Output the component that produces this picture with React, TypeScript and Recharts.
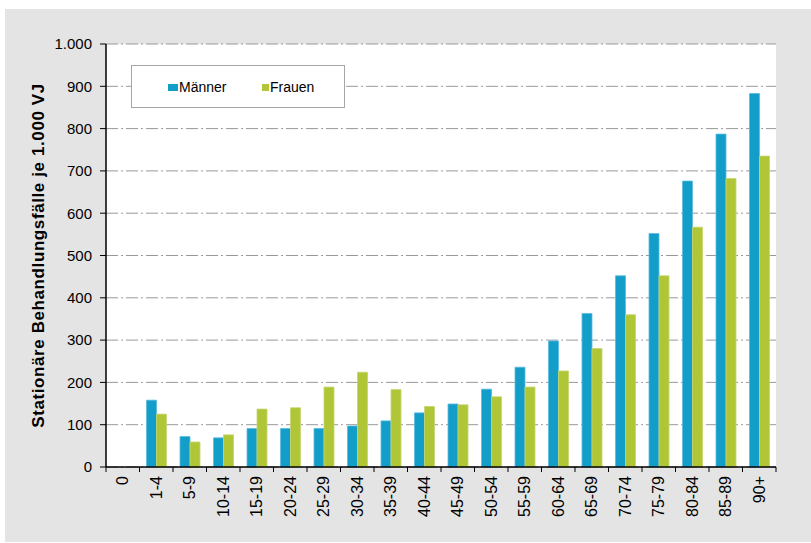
import React from 'react';
import { BarChart, Bar, XAxis, YAxis, CartesianGrid, Legend } from 'recharts';

const categories = ['0', '1-4', '5-9', '10-14', '15-19', '20-24', '25-29', '30-34', '35-39', '40-44', '45-49', '50-54', '55-59', '60-64', '65-69', '70-74', '75-79', '80-84', '85-89', '90+'];
const maenner = [0, 158, 72, 69, 91, 91, 91, 97, 109, 128, 149, 184, 236, 298, 363, 452, 552, 676, 787, 883];
const frauen = [0, 125, 59, 76, 137, 140, 189, 224, 183, 143, 147, 166, 189, 227, 280, 360, 452, 567, 682, 735];
const yTicks = [0, 100, 200, 300, 400, 500, 600, 700, 800, 900, 1000];

const seriesNames = { m: 'Männer', f: 'Frauen' };
const colors = { m: '#139dc9', f: '#b0c637' };
const strokes = { m: '#5bbbe0', f: '#c4d670' };

const data = categories.map((c, i) => ({ cat: c, m: maenner[i], f: frauen[i] }));

const FONT = '"Liberation Sans", Arial, sans-serif';

const fmt = (v: number) => (v >= 1000 ? `${Math.floor(v / 1000)}.${String(v % 1000).padStart(3, '0')}` : String(v));

const XTick = (props: any) => {
  const { x, y, payload, index, visibleTicksCount } = props;
  const half = payload && typeof payload.offset === 'number' && payload.offset > 0 ? payload.offset : 33.5 / 2;
  const axisY = y - 9;
  const isLast = index === (visibleTicksCount ?? categories.length) - 1;
  return (
    <g>
      <line x1={x - half} x2={x - half} y1={axisY} y2={axisY + 5} stroke="#000" strokeWidth={1} />
      {isLast && <line x1={x + half} x2={x + half} y1={axisY} y2={axisY + 5} stroke="#000" strokeWidth={1} />}
      <text
        x={x}
        y={y}
        transform={`rotate(-90, ${x}, ${y})`}
        textAnchor="end"
        dominantBaseline="central"
        fontSize={16}
        fontFamily={FONT}
        fill="#000"
      >
        {payload.value}
      </text>
    </g>
  );
};

const LegendBox = () => (
  <div
    style={{
      position: 'relative',
      width: 214,
      height: 43,
      boxSizing: 'border-box',
      border: '1px solid #a6a6a6',
      background: '#fff',
      fontFamily: FONT,
      fontSize: 14,
      color: '#000',
    }}
  >
    <div style={{ position: 'absolute', left: 36, top: 18, width: 10, height: 7, background: colors.m }} />
    <div style={{ position: 'absolute', left: 47, top: 13, lineHeight: '16px' }}>{seriesNames.m}</div>
    <div style={{ position: 'absolute', left: 130, top: 18, width: 7, height: 7, background: colors.f }} />
    <div style={{ position: 'absolute', left: 138, top: 13, lineHeight: '16px' }}>{seriesNames.f}</div>
  </div>
);

export default function App() {
  return (
    <div style={{ position: 'absolute', left: 5, top: 9, width: 806, height: 533, background: '#e4e4e4' }}>
      <BarChart
        width={806}
        height={533}
        data={data}
        margin={{ top: 35, right: 35, left: 41, bottom: 5 }}
        barSize={10}
        barGap={0}
      >
        <CartesianGrid vertical={false} stroke="#999" strokeDasharray="12 3 2 3" fill="#fff" />
        <XAxis
          dataKey="cat"
          height={70}
          interval={0}
          tick={<XTick />}
          tickLine={false}
          tickSize={5}
          tickMargin={4}
          axisLine={{ stroke: '#000', strokeWidth: 1.5 }}
        />
        <YAxis
          width={60}
          domain={[0, 1000]}
          ticks={yTicks}
          tickFormatter={fmt}
          tickSize={6}
          tickMargin={8}
          tickLine={{ stroke: '#000' }}
          axisLine={{ stroke: '#000', strokeWidth: 1.5 }}
          tick={{ fill: '#000', fontSize: 15, fontFamily: FONT }}
          label={{
            value: 'Stationäre Behandlungsfälle je 1.000 VJ',
            angle: -90,
            position: 'left',
            offset: 8,
            style: { textAnchor: 'middle', fontSize: 17, fontWeight: 'bold', fontFamily: FONT, fill: '#000', letterSpacing: '0.6px' },
          }}
        />
        <YAxis
          yAxisId="r"
          orientation="right"
          width={0}
          domain={[0, 1000]}
          tick={false}
          tickLine={false}
          axisLine={{ stroke: '#999', strokeWidth: 1.5 }}
        />
        <Legend
          layout="horizontal"
          verticalAlign="middle"
          align="center"
          content={<LegendBox />}
          wrapperStyle={{ position: 'absolute', left: 126, top: 56, width: 214, height: 43 }}
        />
        <Bar dataKey="m" name={seriesNames.m} fill={colors.m} stroke={strokes.m} strokeWidth={0.8} isAnimationActive={false} />
        <Bar dataKey="f" name={seriesNames.f} fill={colors.f} stroke={strokes.f} strokeWidth={0.8} isAnimationActive={false} />
      </BarChart>
    </div>
  );
}
